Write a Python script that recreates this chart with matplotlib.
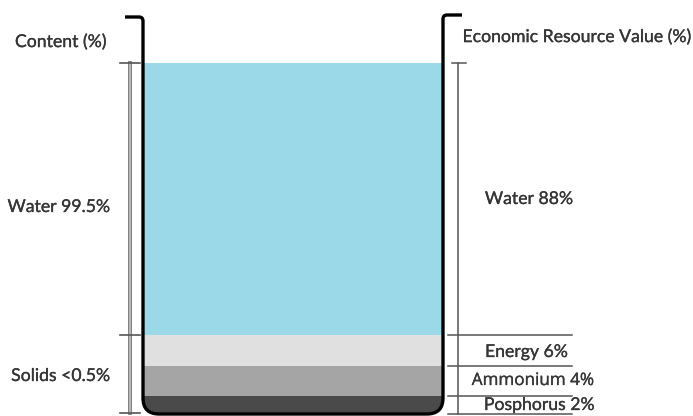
import matplotlib
matplotlib.use("Agg")
import matplotlib.pyplot as plt
from matplotlib.path import Path
from matplotlib.patches import PathPatch, Rectangle
import matplotlib.patheffects as pe

# Composition by content (left) and economic resource value (right)
content_labels = ["Water", "Solids"]
content_values = ["99.5%", "<0.5%"]

value_labels = ["Water", "Energy", "Ammonium", "Posphorus"]
value_pct = [88, 6, 4, 2]

layer_colors = ["#9BD8E8", "#E0E0E0", "#A5A5A5", "#4A4A4A"]

W, H = 693, 416
fig = plt.figure(figsize=(W / 100, H / 100), dpi=100)
ax = fig.add_axes([0, 0, 1, 1])
ax.set_xlim(0, W)
ax.set_ylim(H, 0)
ax.axis("off")

plt.rcParams["font.family"] = ["Lato", "DejaVu Sans"]
TXT = "#353535"
FS = 12.7
# slightly heavier strokes for the labels
text_fx = [pe.withStroke(linewidth=0.2, foreground=TXT)]

# schematic layer boundaries (not to scale), top of liquid to bottom
x_l, x_r = 143, 443
layer_edges = [63, 335, 366, 396, 414]
r = 16

# container outline: open top with small hooks, rounded bottom corners
verts = [
    (125, 17), (139, 17), (143, 17), (143, 21),
    (143, 414 - r), (143, 414), (143 + r, 414),
    (443 - r, 414), (443, 414), (443, 414 - r),
    (443, 19), (443, 15), (447, 15), (462, 15),
]
codes = [
    Path.MOVETO, Path.LINETO, Path.CURVE3, Path.CURVE3,
    Path.LINETO, Path.CURVE3, Path.CURVE3,
    Path.LINETO, Path.CURVE3, Path.CURVE3,
    Path.LINETO, Path.CURVE3, Path.CURVE3, Path.LINETO,
]

# interior region used for clipping the layers
clip_verts = [
    (x_l, 20), (x_l, 414 - r), (x_l, 414), (x_l + r, 414),
    (x_r - r, 414), (x_r, 414), (x_r, 414 - r), (x_r, 20), (x_l, 20),
]
clip_codes = [
    Path.MOVETO, Path.LINETO, Path.CURVE3, Path.CURVE3,
    Path.LINETO, Path.CURVE3, Path.CURVE3, Path.LINETO, Path.CLOSEPOLY,
]
clip_patch = PathPatch(Path(clip_verts, clip_codes), facecolor="none",
                       edgecolor="none", transform=ax.transData)
ax.add_patch(clip_patch)

for i, color in enumerate(layer_colors):
    y0, y1 = layer_edges[i], layer_edges[i + 1]
    rect = Rectangle((x_l, y0), x_r - x_l, y1 - y0, facecolor=color,
                     edgecolor="none", zorder=1)
    ax.add_patch(rect)
    rect.set_clip_path(clip_patch)

ax.add_patch(PathPatch(Path(verts, codes), facecolor="none",
                       edgecolor="black", lw=2.4, zorder=3,
                       capstyle="butt", joinstyle="round"))

# left dimension bracket
bracket_fx = [pe.Stroke(linewidth=2.6, foreground="#666666"), pe.Normal()]
ax.plot([130, 130], [63, 413], color="#C8C8C8", lw=1.2,
        path_effects=bracket_fx, zorder=2)
for y in (63, 335, 413):
    ax.plot([120, 140], [y, y], color="#555555", lw=1.2, zorder=2)

# right dimension bracket and layer separators
ax.plot([458, 458], [63, 414], color="#555555", lw=1.1, zorder=2)
ax.plot([452, 466], [63, 63], color="#555555", lw=1.1, zorder=2)
for y in layer_edges[1:]:
    ax.plot([448, 572], [y, y], color="#555555", lw=1.1, zorder=2)

# headers
ax.text(15, 42, "Content (%)", fontsize=FS, color=TXT, va="center",
        ha="left", path_effects=text_fx)
ax.text(691, 37, "Economic Resource Value (%)", fontsize=FS, color=TXT,
        va="center", ha="right", path_effects=text_fx)

# left labels
left_y = [207, 376]
for lab, val, y in zip(content_labels, content_values, left_y):
    ax.text(110, y, f"{lab} {val}", fontsize=FS, color=TXT, va="center",
            ha="right", path_effects=text_fx)

# right labels, positioned within each layer
right_pos = [(573, 199), (568, 352), (595, 381), (595, 405)]
right_font = [None, None, "Open Sans", None]
for lab, pct, (x, y), fam in zip(value_labels, value_pct, right_pos,
                                  right_font):
    kw = {"family": [fam, "DejaVu Sans"]} if fam else {}
    ax.text(x, y, f"{lab} {pct}%", fontsize=FS if not fam else FS * 0.97,
            color=TXT, va="center", ha="right", path_effects=text_fx, **kw)

fig.savefig("out.png", dpi=100)
